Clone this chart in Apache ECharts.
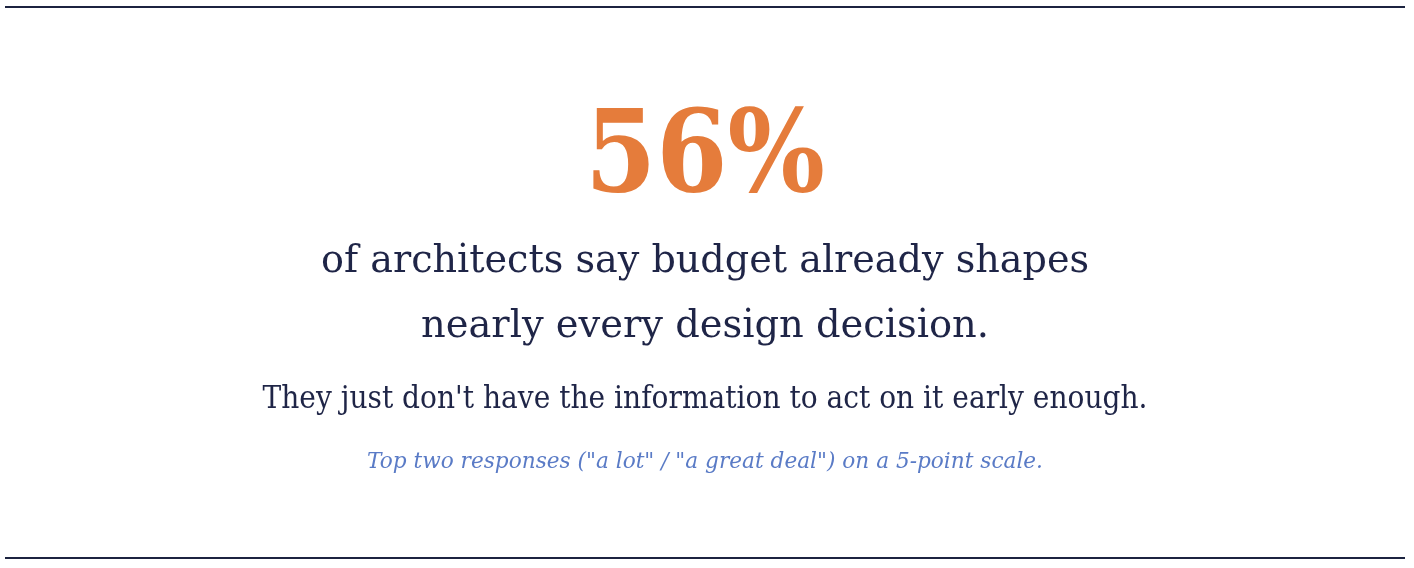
<!DOCTYPE html>
<html>
<head>
<meta charset="utf-8">
<script src="https://cdn.jsdelivr.net/npm/echarts@6.0.0/dist/echarts.min.js"></script>
<style>
  html, body { margin: 0; padding: 0; background: #fff; }
  #main { width: 1414px; height: 568px; }
</style>
</head>
<body>
<div id="main"></div>
<script>
// the figure
var statValue = 56;
var statUnit = '%';
var headline = ['of architects say budget already shapes', 'nearly every design decision.'];
var subline = ["They just don't have the information to act on it early enough."];
var note = ['Top two responses ("a lot" / "a great deal") on a 5-point scale.'];

var W = 1414;
var cx = 705;
var serif = '"DejaVu Serif", Georgia, serif';

// measure text so the fallback font can be fitted to the original width
var ctx = document.createElement('canvas').getContext('2d');
function fit(text, font, target) {
    ctx.font = font;
    return target / ctx.measureText(text).width;
}

function textEl(text, size, weight, style, color, baseline, width) {
    var font = style + ' ' + weight + ' ' + size + 'px ' + serif;
    return {
        type: 'text',
        x: cx,
        y: baseline - size * 0.33,
        scaleX: fit(text, font, width),
        style: {
            text: text,
            fill: color,
            font: font,
            align: 'center',
            verticalAlign: 'middle'
        }
    };
}

var myChart = echarts.init(document.getElementById('main'), null, {renderer: 'canvas'});
var option = {
    backgroundColor: '#ffffff',
    animation: false,
    graphic: [
        {type: 'line', shape: {x1: 5, y1: 7, x2: W - 9, y2: 7}, style: {stroke: '#1c2340', lineWidth: 2}},
        {type: 'line', shape: {x1: 5, y1: 558, x2: W - 9, y2: 558}, style: {stroke: '#1c2340', lineWidth: 2}},
        textEl(statValue + statUnit, 114, 'bold', 'normal', '#e57c3b', 199, 240),
        textEl(headline[0], 40, 'normal', 'normal', '#1f2547', 275, 768),
        textEl(headline[1], 40, 'normal', 'normal', '#1f2547', 340, 568),
        textEl(subline[0], 32, 'normal', 'normal', '#1f2547', 410, 885),
        textEl(note[0], 23, 'normal', 'italic', '#5a7bc6', 470, 676)
    ]
};
myChart.setOption(option);
</script>
</body>
</html>
